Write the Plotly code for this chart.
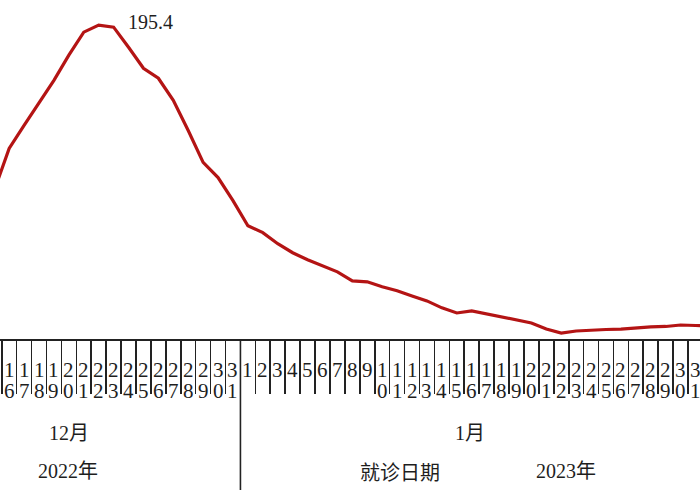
import plotly.graph_objects as go

# ---- data ----
dec_days = list(range(15, 32))          # 2022-12-15 .. 2022-12-31
jan_days = list(range(1, 32))           # 2023-01-01 .. 2023-01-31
feb_days = [1]                          # 2023-02-01
day_numbers = dec_days + jan_days + feb_days

values = [
    92.4, 118.6, 133.0, 146.7, 161.0, 176.7, 191.0, 195.4, 194.1, 181.6,
    168.5, 162.3, 148.6, 129.8, 109.9, 100.5, 86.1,
    70.5, 66.2, 59.3, 53.7, 49.3, 45.6, 41.8, 36.2, 35.6, 32.5, 30.0, 26.8,
    23.7, 19.4, 16.2, 17.5, 15.6, 13.7, 11.9, 10.0, 6.2, 3.7, 5.0, 5.6, 5.9,
    6.2, 6.9, 7.5, 7.8, 8.7, 8.4,
    8.1,
]

month_labels = ["12月", "1月"]
year_labels = ["2022年", "2023年"]
axis_title = "就诊日期"

x_idx = list(range(len(values)))
x_range = [0.386, 47.30]
y_range = [0, 211]

SERIF = "Liberation Serif, Noto Sans CJK SC, serif"
SANS = "Noto Sans CJK SC, sans-serif"
TXT = "#1e1e1e"
H_PLOT = 339  # plot-area height in px

fig = go.Figure()
fig.add_trace(go.Scatter(
    x=x_idx, y=values, mode="lines",
    line=dict(color="#B41414", width=3.2),
    hoverinfo="skip", showlegend=False,
))

annotations = []
# stacked day-number tick labels
for i, d in enumerate(day_numbers):
    if not (x_range[0] < i < x_range[1]):
        continue
    s = str(d)
    for r, ch in enumerate(s):
        annotations.append(dict(
            x=i, xref="x", y=0, yref="paper",
            text=ch, showarrow=False, xanchor="center", yanchor="middle",
            yshift=-(31 + 20.5 * r),
            font=dict(family=SERIF, size=21, color=TXT),
        ))

# peak label
pk = values.index(max(values))
annotations.append(dict(
    x=pk, y=values[pk], xref="x", yref="y", text=f"{values[pk]:.1f}",
    showarrow=False, xanchor="center", yanchor="middle",
    xshift=52, yshift=3,
    font=dict(family=SERIF, size=20, color=TXT),
))

# month / year / title labels
def paper_label(px, py, text, fam):
    annotations.append(dict(
        x=px / 700, xref="paper", y=0, yref="paper", yshift=-(py - H_PLOT),
        text=text, showarrow=False, xanchor="center", yanchor="middle",
        font=dict(family=fam, size=20, color=TXT),
    ))

paper_label(69, 433, month_labels[0], SERIF)
paper_label(470, 433, month_labels[1], SERIF)
paper_label(68, 471, year_labels[0], SERIF)
paper_label(566, 471, year_labels[1], SERIF)
paper_label(400, 471, axis_title, SANS)

# month boundary long line
dec_end = len(dec_days) - 0.5
frac = (dec_end - x_range[0]) / (x_range[1] - x_range[0])
shapes = [dict(
    type="line", xref="x domain", yref="paper",
    x0=frac, x1=frac, y0=0, y1=-(490 - H_PLOT) / H_PLOT,
    line=dict(color="#222", width=1.6),
)]

fig.update_layout(
    width=700, height=500,
    margin=dict(l=0, r=0, t=0, b=500 - H_PLOT),
    paper_bgcolor="white", plot_bgcolor="white",
    xaxis=dict(
        range=x_range, showgrid=False, zeroline=False,
        showline=True, linecolor="#222", linewidth=2,
        tickmode="array", tickvals=[i + 0.5 for i in x_idx],
        ticks="outside", ticklen=53, tickwidth=1.6, tickcolor="#222",
        showticklabels=False,
    ),
    yaxis=dict(range=y_range, visible=False),
    annotations=annotations,
    shapes=shapes,
)

fig.write_html(
    "out.html",
    config={"displayModeBar": False, "staticPlot": True},
    post_script="document.body.style.margin='0';document.body.style.overflow='hidden';",
)
